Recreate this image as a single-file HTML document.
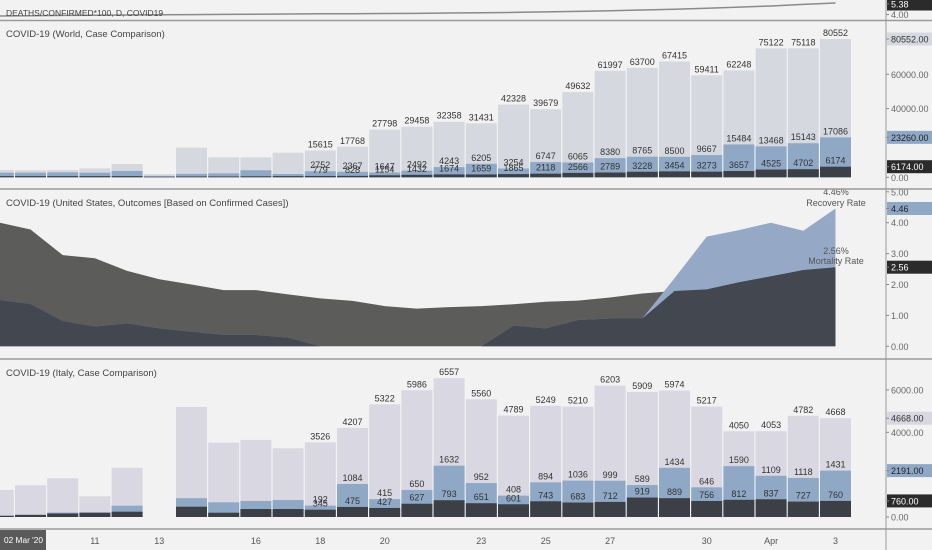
<!DOCTYPE html>
<html><head><meta charset="utf-8">
<style>
html,body{margin:0;padding:0;background:#f2f2f2;}
svg{display:block;font-family:"Liberation Sans",sans-serif;}
</style></head>
<body>
<svg id="chart" width="932" height="550" viewBox="0 0 932 550">
  <rect x="0" y="0" width="932" height="550" fill="#f2f2f2"/>
  <g id="top"></g>
  <g id="world"></g>
  <g id="us"></g>
  <g id="italy"></g>
  <g id="axes"></g>
</svg>
<script>
// ---- data (index 0 = Mar 8, 26 = Apr 3) ----
const dateTicks = ["11","13","16","18","20","23","25","27","30","Apr","3"];
const dateTickIdx = [3,5,8,10,12,15,17,19,22,24,26];

const rateValues = [3.75,3.78,3.82,3.85,3.88,3.9,3.92,3.95,3.97,4.0,4.02,4.04,4.06,4.08,4.12,4.16,4.2,4.26,4.32,4.4,4.5,4.6,4.72,4.86,5.0,5.2,5.38];

const worldConfirmed = [4250,4100,4300,5200,7750,1900,17250,11650,11650,14350,15615,17768,27798,29458,32358,31431,42328,39679,49632,61997,63700,67415,59411,62248,75122,75118,80552];
const worldRecovered = [2000,2000,2200,2000,3000,500,1500,1800,3500,1200,2752,2367,1647,2492,4243,6205,3254,6747,6065,8380,8765,8500,9667,15484,13468,15143,17086];
const worldDeaths = [700,700,700,700,700,300,500,500,600,700,779,828,1154,1432,1674,1659,1865,2118,2566,2789,3228,3454,3273,3657,4525,4702,6174];
const worldLabelFrom = 10;

const usMortality = [4.0,3.78,2.95,2.85,2.44,2.17,2.0,1.82,1.82,1.68,1.55,1.47,1.30,1.22,1.27,1.30,1.36,1.44,1.48,1.58,1.71,1.79,1.84,2.07,2.27,2.47,2.56];
const usRecovery = [1.5,1.37,0.82,0.64,0.74,0.58,0.47,0.37,0.37,0.28,0.0,0,0,0,0,0,0.67,0.58,0.85,0.9,0.9,2.2,3.55,3.76,4.0,3.74,4.46];

const italyConfirmed = [1275,1500,1830,977,2330,null,5200,3510,3640,3245,3526,4207,5322,5986,6557,5560,4789,5249,5210,6203,5909,5974,5217,4050,4053,4782,4668];
const italyRecovered = [30,20,40,20,284,null,400,490,380,425,192,1084,415,650,1632,952,408,894,1036,999,589,1434,646,1590,1109,1118,1431];
const italyDeaths = [50,97,168,200,250,null,487,203,377,377,345,475,427,627,793,651,601,743,683,712,919,889,756,812,837,727,760];
const italyLabelFrom = 10;

// ---- helpers ----
const NS="http://www.w3.org/2000/svg";
function mk(parent,tag,attrs,text){const e=document.createElementNS(NS,tag);for(const k in attrs)e.setAttribute(k,attrs[k]);if(text!=null)e.textContent=text;parent.appendChild(e);return e;}
const X = i => 835.5 - (26 - i) * 32.2;
const BW = 31;
const PLOT_R = 886;

const gTop=document.getElementById('top'),gW=document.getElementById('world'),gU=document.getElementById('us'),gI=document.getElementById('italy'),gA=document.getElementById('axes');

[20.5,189,359,529].forEach(y=>{const l=mk(gA,'line',{x1:0,x2:932,y1:y,y2:y,stroke:'#9a9a9a','stroke-width':1.5});

});
{const l=mk(gA,'line',{x1:PLOT_R,x2:PLOT_R,y1:0,y2:550,stroke:'#9a9a9a','stroke-width':1});

}

function axisLabel(g,y,text,bg,fg){
  if(bg){const r=mk(g,'rect',{x:887,y:y-6.5,width:45,height:13,fill:bg});
    
    }
  mk(g,'line',{x1:886,x2:889,y1:y,y2:y,stroke:'#888'});
  const t=mk(g,'text',{x:891,y:y+3.5,'font-size':9,fill:fg||'#666'},text);
  
  
}
function title(g,y,text,size){const t=mk(g,'text',{x:6,y:y,'font-size':size||9.5,fill:'#444'},text);
  
  }

// ---- top strip ----
{const yR=v=>14-(v-4)*8;
 let d='';rateValues.forEach((v,i)=>{d+=(i?'L':'M')+Math.max(X(i),0).toFixed(1)+','+yR(v).toFixed(1);});
 const p=mk(gTop,'path',{d:d,fill:'none',stroke:'#8a8a8a','stroke-width':1.5});
 
 
 title(gTop,16,'DEATHS/CONFIRMED*100, D, COVID19',8.5);
 axisLabel(gTop,yR(5.38)<4?4:yR(5.38),rateValues[26].toFixed(2),'#2b2b2b','#fff');
 axisLabel(gTop,14.5,'4.00');
}

// ---- stacked bar panels ----
function barPanel(g,confirmed,recovered,deaths,labelFrom,y0,scale,light,name){
  const Y=v=>y0-v*scale;
  for(let i=0;i<confirmed.length;i++){
    if(confirmed[i]==null)continue;
    const x=X(i)-BW/2;
    const r1=mk(g,'rect',{x:x,y:Y(confirmed[i]),width:BW,height:confirmed[i]*scale,fill:light});
    
    
    const rt=deaths[i]+recovered[i];
    const r2=mk(g,'rect',{x:x,y:Y(rt),width:BW,height:rt*scale,fill:'#8fa8c6'});
    
    
    const r3=mk(g,'rect',{x:x,y:Y(deaths[i]),width:BW,height:deaths[i]*scale,fill:'#3c4046'});
    
    
    if(i>=labelFrom){
      [[confirmed[i],confirmed[i]],[rt,recovered[i]],[deaths[i],deaths[i]]].forEach(([h,v])=>{
        const t=mk(g,'text',{x:X(i),y:Y(h)-3,'font-size':9,fill:'#333','text-anchor':'middle'},String(v));
        
        
      });
    }
  }
  return Y;
}
{const Y=barPanel(gW,worldConfirmed,worldRecovered,worldDeaths,worldLabelFrom,177.3,0.001717,'#d5d9df','world');
 title(gW,37,'COVID-19 (World, Case Comparison)');
 axisLabel(gW,Y(60000),'60000.00');axisLabel(gW,Y(40000),'40000.00');axisLabel(gW,Y(0),'0.00');
 axisLabel(gW,Y(worldConfirmed[26]),worldConfirmed[26].toFixed(2),'#d5d9df','#333');
 axisLabel(gW,Y(worldRecovered[26]+worldDeaths[26]),(worldRecovered[26]+worldDeaths[26]).toFixed(2),'#8fa8c6','#222');
 axisLabel(gW,Y(worldDeaths[26]),worldDeaths[26].toFixed(2),'#2b2b2b','#fff');
}
{const Y=barPanel(gI,italyConfirmed,italyRecovered,italyDeaths,italyLabelFrom,517,0.02117,'#d9d7e1','italy');
 title(gI,376,'COVID-19 (Italy, Case Comparison)');
 axisLabel(gI,Y(6000),'6000.00');axisLabel(gI,Y(4000),'4000.00');axisLabel(gI,Y(0),'0.00');
 axisLabel(gI,Y(italyConfirmed[26]),italyConfirmed[26].toFixed(2),'#d9d7e1','#333');
 axisLabel(gI,Y(italyRecovered[26]+italyDeaths[26]),(italyRecovered[26]+italyDeaths[26]).toFixed(2),'#8fa8c6','#222');
 axisLabel(gI,Y(italyDeaths[26]),italyDeaths[26].toFixed(2),'#2b2b2b','#fff');
}

// ---- US area panel ----
{const y0=346.3,s=30.9,Y=v=>y0-v*s;
 function area(vals,fill,name){
   let d='M'+Math.max(X(0),0)+','+y0;
   vals.forEach((v,i)=>{d+='L'+Math.max(X(i),0).toFixed(1)+','+Y(v).toFixed(1);});
   d+='L'+X(vals.length-1)+','+y0+'Z';
   const p=mk(gU,'path',{d:d,fill:fill});
   
   
 }
 area(usMortality,'#5c5c5a','mortality-rate-area');
 area(usRecovery,'#95a9c6','recovery-rate-area');
 area(usMortality.map((v,i)=>Math.min(v,usRecovery[i])),'#434850','overlap-area');
 title(gU,206,'COVID-19 (United States, Outcomes [Based on Confirmed Cases])');
 const lab=(y,t)=>{const e=mk(gU,'text',{x:836,y:y,'font-size':9,fill:'#555','text-anchor':'middle'},t);
   
   };
 lab(195,usRecovery[26].toFixed(2)+'%');lab(206,'Recovery Rate');
 lab(254,usMortality[26].toFixed(2)+'%');lab(264,'Mortality Rate');
 [5,4,3,2,1,0].forEach(v=>axisLabel(gU,Y(v),v.toFixed(2)));
 axisLabel(gU,Y(usRecovery[26]),usRecovery[26].toFixed(2),'#8fa8c6','#222');
 axisLabel(gU,Y(usMortality[26]),usMortality[26].toFixed(2),'#2b2b2b','#fff');
}

// ---- date axis ----
dateTicks.forEach((t,k)=>{const e=mk(gA,'text',{x:X(dateTickIdx[k]),y:544,'font-size':9,fill:'#555','text-anchor':'middle'},t);
  
  });
{const r=mk(gA,'rect',{x:0,y:530,width:46,height:20,fill:'#5a5a5a'});
 
 
 const t=mk(gA,'text',{x:4,y:543,'font-size':8.5,fill:'#fff',textLength:39,lengthAdjust:'spacingAndGlyphs'},"02 Mar '20");
 
 }
</script>
</body></html>
